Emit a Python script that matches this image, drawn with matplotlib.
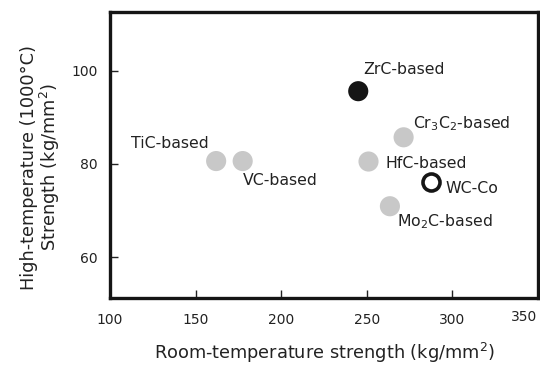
import matplotlib
matplotlib.use("Agg")
import matplotlib.pyplot as plt
import matplotlib.transforms as mtransforms

labels = ["TiC-based", "VC-based", "ZrC-based", r"Cr$_3$C$_2$-based", "HfC-based", "WC-Co", r"Mo$_2$C-based"]
room_strength = [162, 177.5, 245, 271.5, 251, 287.5, 263.5]
high_strength = [80.6, 80.6, 95.6, 85.7, 80.5, 76.2, 70.9]
kinds = ["gray", "gray", "black", "gray", "gray", "open", "gray"]

x_ticks = [100, 150, 200, 250, 300, 350]
y_ticks = [60, 80, 100]

# style/layout
offsets = [(-46, 18), (0, -19), (5, 22), (9, 14), (17, -2), (14, -7), (7, -15)]
has = ["center", "left", "left", "left", "left", "left", "left"]

fig = plt.figure(figsize=(5.4, 3.7), dpi=100)
ax = fig.add_axes([110/540, 72/370, 428/540, 286/370])

txt = "#222222"
for x, y, k in zip(room_strength, high_strength, kinds):
    if k == "gray":
        ax.scatter(x, y, s=210, color="#c8c8c8", edgecolors="none", zorder=3)
    elif k == "black":
        ax.scatter(x, y, s=210, color="#151515", edgecolors="none", zorder=3)
    else:
        ax.scatter(x, y, s=150, facecolor="white", edgecolors="#151515", linewidths=2.6, zorder=3)

for lab, x, y, off, ha in zip(labels, room_strength, high_strength, offsets, has):
    ax.annotate(lab, (x, y), xytext=off, textcoords="offset pixels", ha=ha, va="center",
                fontsize=11.3, color=txt)

ax.set_xlim(100, 350)
ax.set_ylim(51.2, 112.6)
ax.set_xticks(x_ticks)
ax.set_yticks(y_ticks)
ax.tick_params(direction="in", length=6, width=1, colors="#222222", labelsize=10)
ax.tick_params(axis="x", pad=11)
ax.tick_params(axis="y", pad=9)
for s in ax.spines.values():
    s.set_linewidth(2.4)
    s.set_color("#151515")

# last x tick label sits inside the figure edge, slightly raised
last = ax.get_xticklabels()[-1]
last.set_transform(last.get_transform() + mtransforms.ScaledTranslation(-14/100, 3/100, fig.dpi_scale_trans))

ax.set_xlabel(r"Room-temperature strength (kg/mm$^2$)", fontsize=12.8, color=txt, labelpad=10)
ax.set_ylabel("High-temperature (1000°C)\n" + r"Strength (kg/mm$^2$)", fontsize=12.8, color=txt,
              linespacing=1.0)
ax.yaxis.set_label_coords(-0.112, 0.458)

fig.savefig("out.png", dpi=100)
